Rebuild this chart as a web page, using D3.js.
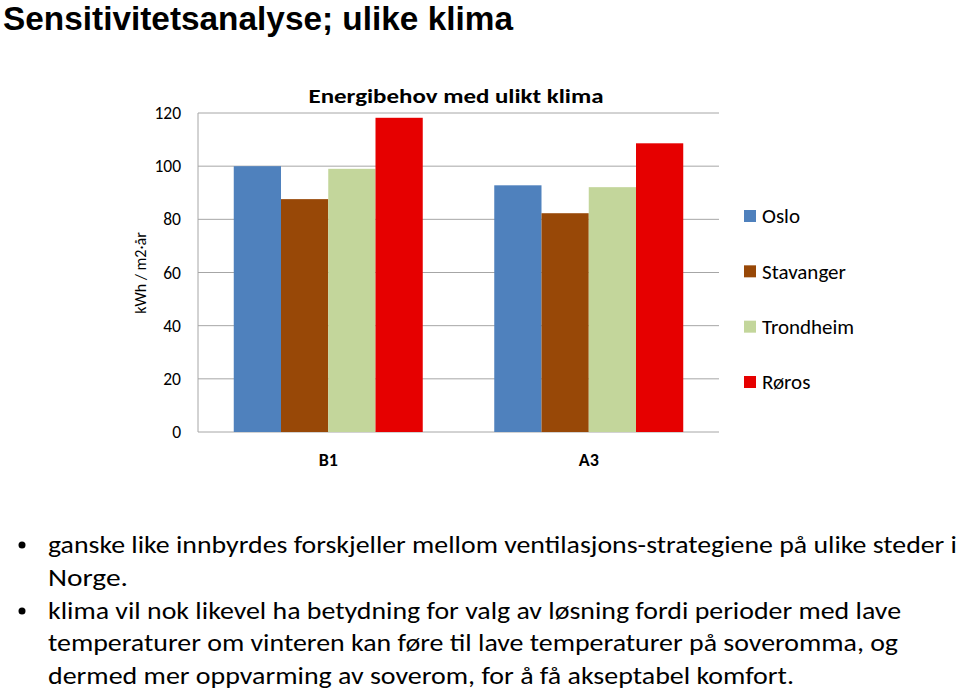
<!DOCTYPE html>
<html><head><meta charset="utf-8">
<script src="https://cdn.jsdelivr.net/npm/d3@7"></script>
<style>body{margin:0;background:#fff}svg{display:block}</style>
</head><body>
<svg id="c" width="960" height="693"></svg>
<script>
const categories = ["B1", "A3"];
const seriesNames = ["Oslo", "Stavanger", "Trondheim", "Røros"];
const oslo = [100, 92.8];
const stavanger = [87.6, 82.3];
const trondheim = [99, 92.1];
const roros = [118.2, 108.6];
const yTicks = [0, 20, 40, 60, 80, 100, 120];
const colors = ["#4F81BD", "#984807", "#C3D69B", "#E60000"];
const seriesValues = [oslo, stavanger, trondheim, roros];
const pageTitle = "Sensitivitetsanalyse; ulike klima";
const chartTitle = "Energibehov med ulikt klima";
const yLabel = "kWh / m2·år";
const bullets = [
  ["ganske like innbyrdes forskjeller mellom ventilasjons-strategiene på ulike steder i", "Norge."],
  ["klima vil nok likevel ha betydning for valg av løsning fordi perioder med lave",
   "temperaturer om vinteren kan føre til lave temperaturer på soveromma, og",
   "dermed mer oppvarming av soverom, for å få akseptabel komfort."]
];

const FONT = "Carlito, 'Liberation Sans Narrow', 'DejaVu Sans Condensed', Lato, 'Open Sans', sans-serif";
const svg = d3.select("#c");
const plot = {left: 198, right: 719, top: 113, bottom: 432};

const x0 = d3.scaleBand().domain(categories).range([plot.left, plot.right]).paddingInner(0.2745).paddingOuter(0.13725);
const x1 = d3.scaleBand().domain(seriesNames).range([0, x0.bandwidth()]);
const y = d3.scaleLinear().domain([0, 120]).range([plot.bottom, plot.top]);

// page title
svg.append("text").attr("x", 3).attr("y", 30).attr("font-family", "'Liberation Sans', Arial, sans-serif").attr("font-weight", "bold")
  .attr("font-size", 33).attr("fill", "#000").text(pageTitle)
  .attr("textLength", 510).attr("lengthAdjust", "spacingAndGlyphs");

// gridlines
svg.append("g").selectAll("line").data(yTicks).join("line")
  .attr("x1", plot.left).attr("x2", plot.right)
  .attr("y1", d => y(d)).attr("y2", d => y(d))
  .attr("stroke", "#a6a6a6").attr("stroke-width", 1);

// y axis line
svg.append("line").attr("x1", plot.left).attr("x2", plot.left).attr("y1", plot.top).attr("y2", plot.bottom)
  .attr("stroke", "#a6a6a6");

// y tick labels
svg.append("g").selectAll("text").data(yTicks).join("text")
  .attr("x", 181).attr("y", d => y(d)).attr("dy", "0.35em").attr("text-anchor", "end")
  .attr("font-family", FONT).attr("font-size", 17.5).attr("fill", "#000").text(d => d);

// bars
const groups = svg.append("g").selectAll("g").data(categories).join("g")
  .attr("transform", d => `translate(${x0(d)},0)`);
groups.selectAll("rect").data((d, i) => seriesNames.map((s, j) => ({s, v: seriesValues[j][i], c: colors[j]})))
  .join("rect")
  .attr("x", d => x1(d.s)).attr("width", x1.bandwidth())
  .attr("y", d => y(d.v)).attr("height", d => y(0) - y(d.v))
  .attr("fill", d => d.c);

// category labels
svg.append("g").selectAll("text").data(categories).join("text")
  .attr("x", d => x0(d) + x0.bandwidth() / 2).attr("y", 466).attr("text-anchor", "middle")
  .attr("font-family", FONT).attr("font-weight", "bold").attr("font-size", 18).text(d => d);

// chart title
svg.append("text").attr("x", 456).attr("y", 103).attr("text-anchor", "middle")
  .attr("font-family", FONT).attr("font-weight", "bold").attr("font-size", 21).text(chartTitle)
  .attr("textLength", 295).attr("lengthAdjust", "spacingAndGlyphs");

// y label
svg.append("text").attr("transform", "translate(146,273) rotate(-90)").attr("text-anchor", "middle")
  .attr("font-family", FONT).attr("font-size", 16).text(yLabel);

// legend
const legY = d3.scalePoint().domain(seriesNames).range([216, 382]);
const leg = svg.append("g").selectAll("g").data(seriesNames).join("g")
  .attr("transform", d => `translate(744,${legY(d)})`);
leg.append("rect").attr("x", 0).attr("y", -6).attr("width", 12).attr("height", 12)
  .attr("fill", (d, i) => colors[i]);
leg.append("text").attr("x", 18).attr("y", 0).attr("dy", "0.35em")
  .attr("font-family", FONT).attr("font-size", 21).text(d => d);

// bullets
const lineYs = [553, 586, 619, 651, 684];
const lineWidths = [909, 80, 853, 850, 746];
let li = 0;
bullets.forEach(b => {
  svg.append("circle").attr("cx", 22).attr("cy", lineYs[li] - 8).attr("r", 3.5).attr("fill", "#000");
  b.forEach(line => {
    svg.append("text").attr("x", 48).attr("y", lineYs[li]).attr("font-family", FONT).attr("font-size", 24)
      .attr("fill", "#000").text(line)
      .attr("textLength", lineWidths[li]).attr("lengthAdjust", "spacingAndGlyphs");
    li++;
  });
});
</script>
</body></html>
